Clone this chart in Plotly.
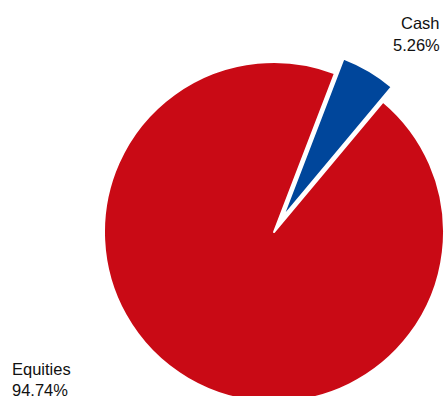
import plotly.graph_objects as go

# Data
labels = ["Cash", "Equities"]
values = [5.26, 94.74]
colors = ["#00469B", "#C90A15"]
pulls = [0.1, 0.0]

W, H = 470, 420  # figure larger than window; pie overflows the visible area like the reference

cx, cy, r = 274, 232, 170
side_half = r * (1 + max(pulls))

def px_x(x):
    return x / W

def px_y(y):
    return 1 - y / H

fig = go.Figure(go.Pie(
    labels=labels,
    values=values,
    marker=dict(colors=colors, line=dict(color="white", width=2)),
    pull=pulls,
    sort=False,
    direction="clockwise",
    rotation=21,
    textinfo="none",
    hoverinfo="label+percent",
    showlegend=False,
    domain=dict(
        x=[px_x(cx - side_half), px_x(cx + side_half)],
        y=[px_y(cy + side_half), px_y(cy - side_half)],
    ),
))

font = dict(family="Liberation Sans, Arial, sans-serif", size=16.5, color="#111111")
ann = [
    (labels[0], 442, 23, "right"),
    (f"{values[0]:.2f}%", 442, 45, "right"),
    (labels[1], 10, 369, "left"),
    (f"{values[1]:.2f}%", 10, 390, "left"),
]
for t, x, y, anc in ann:
    fig.add_annotation(text=t, x=px_x(x), y=px_y(y),
                       xref="paper", yref="paper", xanchor=anc, yanchor="middle",
                       showarrow=False, font=font)

fig.update_layout(
    width=W, height=H,
    margin=dict(l=0, r=0, t=0, b=0),
    paper_bgcolor="white",
    plot_bgcolor="white",
)

fig.write_html(
    "out.html",
    post_script="document.body.style.margin='0';document.body.style.overflow='hidden';document.documentElement.style.overflow='hidden';",
)
